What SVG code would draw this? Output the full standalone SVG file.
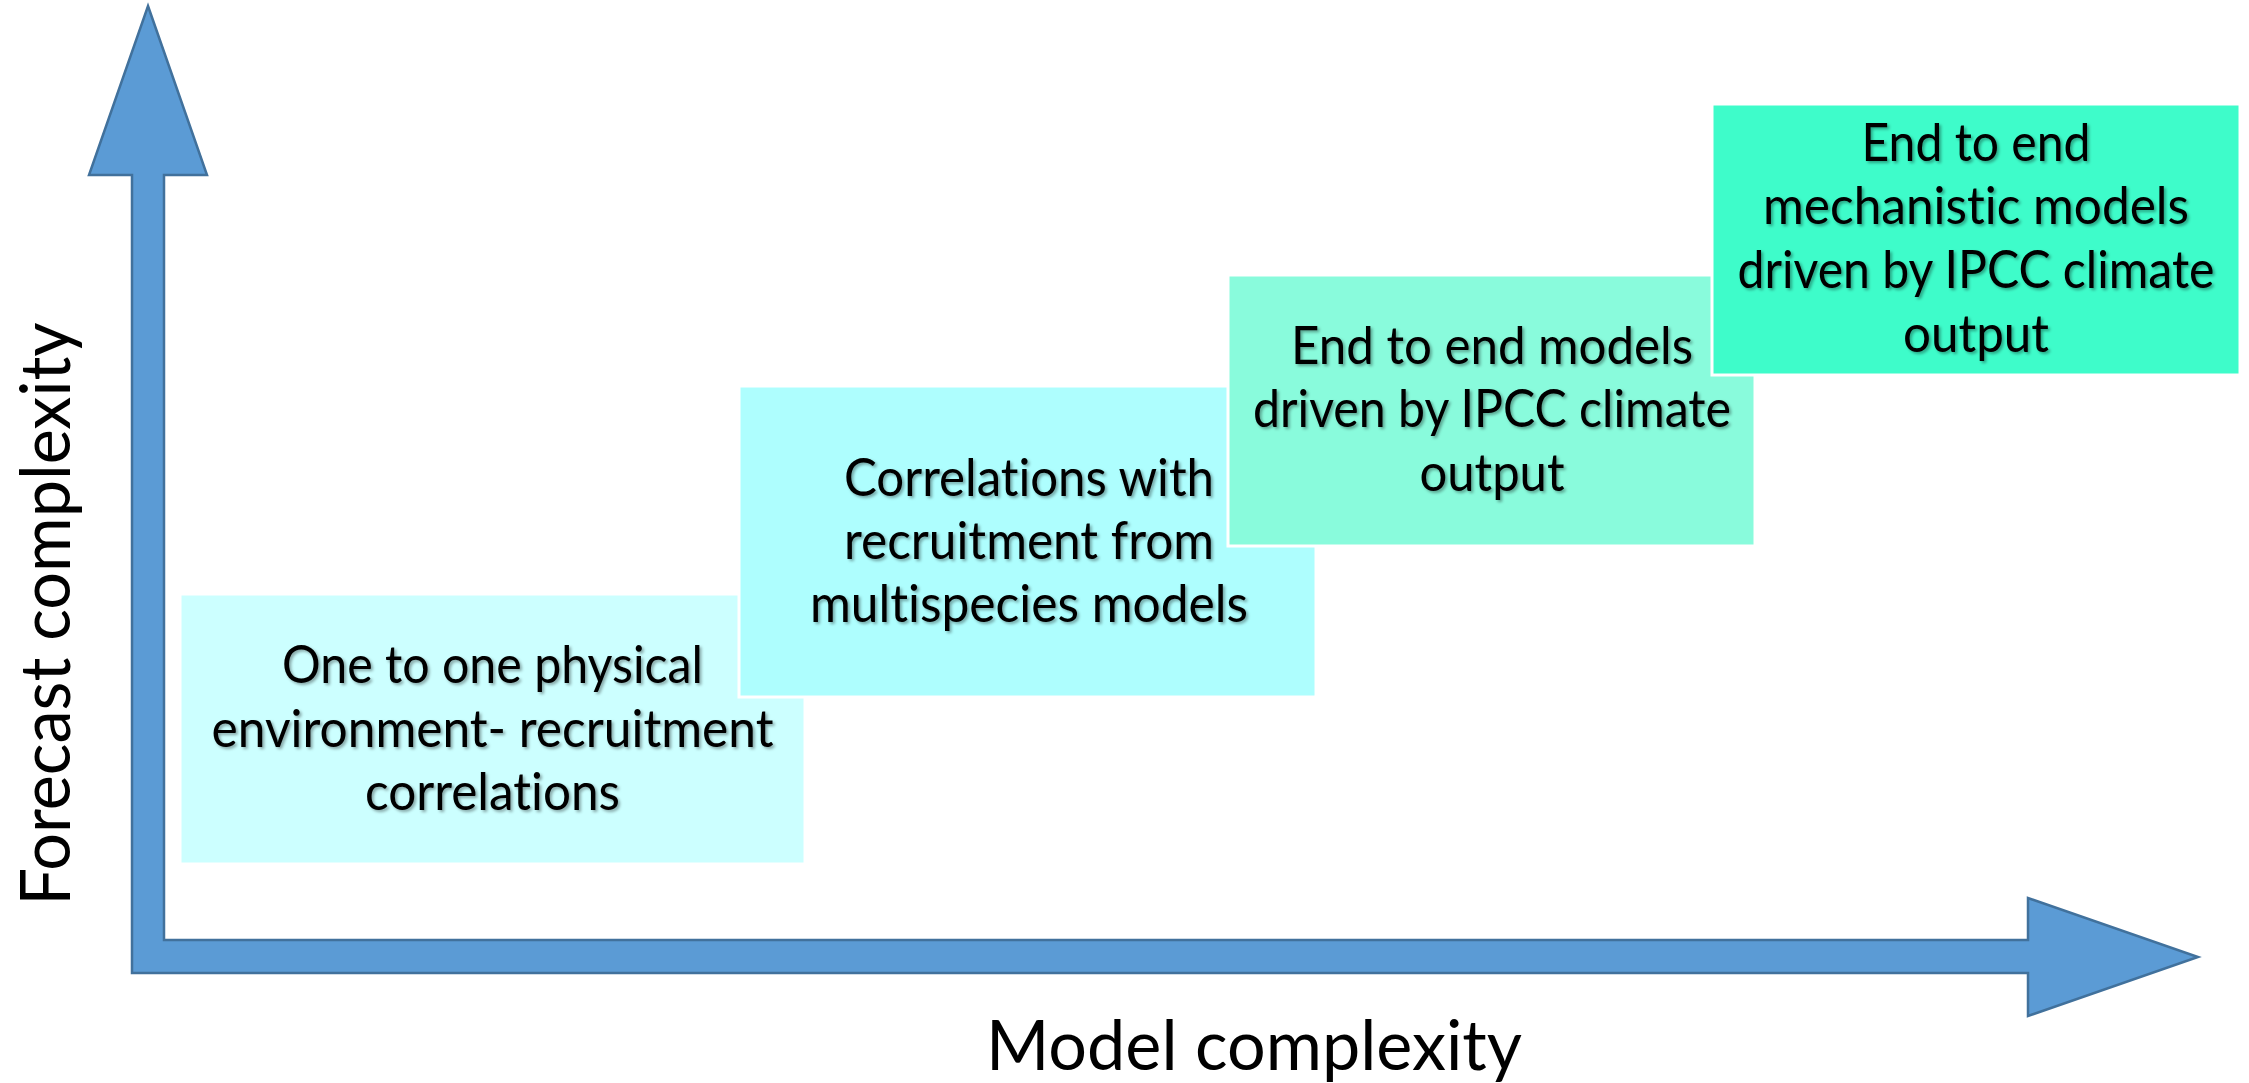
<svg xmlns="http://www.w3.org/2000/svg" width="2249" height="1083" viewBox="0 0 2249 1083">
  <defs>
    <filter id="soft" x="-5%" y="-20%" width="110%" height="140%">
      <feDropShadow dx="2" dy="2" stdDeviation="1.5" flood-color="#000" flood-opacity="0.35"/>
    </filter>
  </defs>
  <style>
    text { font-variant-ligatures: none; font-feature-settings: "liga" 0, "clig" 0; }
    .box { stroke: #ffffff; stroke-width: 3; }
    .lbl { font-family: Lato, "Open Sans", sans-serif; font-size: 52px; fill: #000; text-anchor: middle; filter: url(#soft); }
    .axis { font-family: Lato, "Open Sans", sans-serif; font-size: 70px; fill: #000; text-anchor: middle; }
    .arrow { fill: #5B9BD5; stroke: #41719C; stroke-width: 2.5; stroke-linejoin: miter; }
  </style>

  <!-- L-shaped double axis arrow -->
  <g id="connectors">
    <polygon class="arrow" points="148,6 207,175 164,175 164,940 2028,940 2028,898 2198,957 2028,1016 2028,973 132,973 132,175 89,175"/>
  </g>

  <!-- Step 1 -->
  <g id="step1">
    <rect class="box" x="180" y="594" width="625" height="270" fill="#CCFFFF"/>
    <text class="lbl" x="492.5" y="683" textLength="421" lengthAdjust="spacingAndGlyphs">One to one physical</text>
    <text class="lbl" x="492.5" y="746.5" textLength="562" lengthAdjust="spacingAndGlyphs">environment- recruitment</text>
    <text class="lbl" x="492.5" y="810" textLength="255" lengthAdjust="spacingAndGlyphs">correlations</text>
  </g>

  <!-- Step 2 -->
  <g id="step2">
    <rect class="box" x="739" y="386" width="577" height="311" fill="#AEFEFE"/>
    <text class="lbl" x="1029" y="496" textLength="370" lengthAdjust="spacingAndGlyphs">Correlations with</text>
    <text class="lbl" x="1029" y="559" textLength="370" lengthAdjust="spacingAndGlyphs">recruitment from</text>
    <text class="lbl" x="1029" y="622" textLength="438" lengthAdjust="spacingAndGlyphs">multispecies models</text>
  </g>

  <!-- Step 3 -->
  <g id="step3">
    <rect class="box" x="1228" y="275" width="527" height="271" fill="#89FBDC"/>
    <text class="lbl" x="1492" y="364" textLength="402" lengthAdjust="spacingAndGlyphs">End to end models</text>
    <text class="lbl" x="1492" y="427" textLength="478" lengthAdjust="spacingAndGlyphs">driven by IPCC climate</text>
    <text class="lbl" x="1492" y="491" textLength="145" lengthAdjust="spacingAndGlyphs">output</text>
  </g>

  <!-- Step 4 -->
  <g id="step4">
    <rect class="box" x="1712" y="104" width="528" height="271" fill="#3EFCCA"/>
    <text class="lbl" x="1976" y="161" textLength="229" lengthAdjust="spacingAndGlyphs">End to end</text>
    <text class="lbl" x="1976" y="224" textLength="426" lengthAdjust="spacingAndGlyphs">mechanistic models</text>
    <text class="lbl" x="1976" y="288" textLength="477" lengthAdjust="spacingAndGlyphs">driven by IPCC climate</text>
    <text class="lbl" x="1976" y="352" textLength="146" lengthAdjust="spacingAndGlyphs">output</text>
  </g>

  <!-- Axis titles -->
  <g id="axis-x">
    <text class="axis" x="1254" y="1070" textLength="536" lengthAdjust="spacingAndGlyphs">Model complexity</text>
  </g>
  <g id="axis-y">
    <text class="axis" transform="translate(70,614) rotate(-90)" x="0" y="0" textLength="583" lengthAdjust="spacingAndGlyphs">Forecast complexity</text>
  </g>
</svg>
